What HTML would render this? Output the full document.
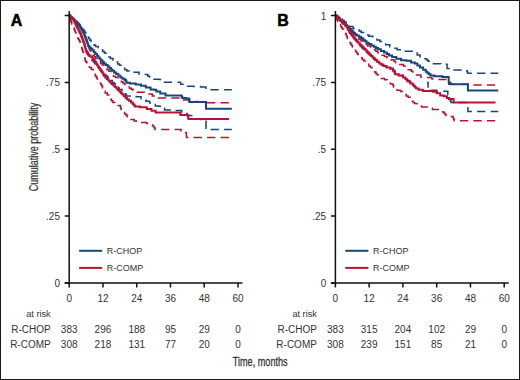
<!DOCTYPE html><html><head><meta charset="utf-8"><style>html,body{margin:0;padding:0;background:#fff;}body{width:520px;height:380px;overflow:hidden;}svg{display:block;font-family:"Liberation Sans",sans-serif;}</style></head><body>
<svg width="520" height="380" viewBox="0 0 520 380">
<rect x="0" y="0" width="520" height="380" fill="#fff"/>
<path d="M69.20,15.50 L70.15,15.50 L70.15,17.00 L72.05,17.00 L72.05,18.50 L73.00,18.50 L73.83,18.50 L73.83,20.00 L75.50,20.00 L75.50,21.50 L77.17,21.50 L77.17,23.00 L78.00,23.00 L78.67,23.00 L78.67,24.50 L80.00,24.50 L80.00,26.00 L81.33,26.00 L81.33,27.50 L82.00,27.50 L82.57,27.50 L82.57,29.20 L83.70,29.20 L83.70,30.90 L84.83,30.90 L84.83,32.60 L85.40,32.60 L85.83,32.60 L85.83,34.07 L86.70,34.07 L86.70,35.53 L87.57,35.53 L87.57,37.00 L88.00,37.00 L88.62,37.00 L88.62,38.57 L89.85,38.57 L89.85,40.13 L91.08,40.13 L91.08,41.70 L91.70,41.70 L92.47,41.70 L92.47,43.33 L94.00,43.33 L94.00,44.97 L95.53,44.97 L95.53,46.60 L96.30,46.60 L98.15,46.60 L98.15,48.30 L100.00,48.30 L100.88,48.30 L100.88,49.87 L102.65,49.87 L102.65,51.43 L104.42,51.43 L104.42,53.00 L105.30,53.00 L106.02,53.00 L106.02,54.35 L107.47,54.35 L107.47,55.70 L108.92,55.70 L108.92,57.05 L110.38,57.05 L110.38,58.40 L111.10,58.40 L113.05,58.40 L113.05,60.30 L115.00,60.30 L115.90,60.30 L115.90,62.10 L117.70,62.10 L117.70,63.90 L118.60,63.90 L119.47,63.90 L119.47,65.35 L121.22,65.35 L121.22,66.80 L122.10,66.80 L123.00,66.80 L123.00,68.30 L124.80,68.30 L124.80,69.80 L125.70,69.80 L126.88,69.80 L126.88,71.00 L129.22,71.00 L129.22,72.20 L130.40,72.20 L136.30,72.20 L139.00,72.20 L139.00,74.00 L141.70,74.00 L144.35,74.00 L144.35,74.50 L147.00,74.50 L147.88,74.50 L147.88,76.30 L149.62,76.30 L149.62,78.10 L150.50,78.10 L153.20,78.10 L153.20,79.30 L155.90,79.30 L159.45,79.30 L159.45,79.60 L163.00,79.60 L163.50,79.60 L163.50,80.90 L164.50,80.90 L164.50,82.20 L165.00,82.20 L180.00,82.20 L180.65,82.20 L180.65,84.20 L181.30,84.20 L186.00,84.20 L186.50,84.20 L186.50,86.20 L187.00,86.20 L193.50,86.20 L193.50,86.50 L200.00,86.50 L200.50,86.50 L200.50,87.00 L201.00,87.00 L206.00,87.00 L206.00,89.70 L231.80,89.70" fill="none" stroke="#15467f" stroke-width="1.5" stroke-dasharray="8.3 5.2" stroke-dashoffset="0.60" stroke-linejoin="miter"/>
<path d="M69.20,15.50 L69.90,15.50 L69.90,17.00 L71.30,17.00 L71.30,18.50 L72.00,18.50 L72.50,18.50 L72.50,19.83 L73.50,19.83 L73.50,21.17 L74.50,21.17 L74.50,22.50 L75.00,22.50 L75.38,22.50 L75.38,24.00 L76.12,24.00 L76.12,25.50 L76.88,25.50 L76.88,27.00 L77.62,27.00 L77.62,28.50 L78.00,28.50 L78.38,28.50 L78.38,30.00 L79.12,30.00 L79.12,31.50 L79.88,31.50 L79.88,33.00 L80.62,33.00 L80.62,34.50 L81.00,34.50 L81.29,34.50 L81.29,36.00 L81.86,36.00 L81.86,37.50 L82.44,37.50 L82.44,39.00 L83.01,39.00 L83.01,40.50 L83.30,40.50 L83.51,40.50 L83.51,41.88 L83.94,41.88 L83.94,43.25 L84.36,43.25 L84.36,44.62 L84.79,44.62 L84.79,46.00 L85.00,46.00 L85.30,46.00 L85.30,47.40 L85.90,47.40 L85.90,48.80 L86.50,48.80 L86.50,50.20 L87.10,50.20 L87.10,51.60 L87.70,51.60 L87.70,53.00 L88.00,53.00 L88.33,53.00 L88.33,54.50 L89.00,54.50 L89.00,56.00 L89.67,56.00 L89.67,57.50 L90.00,57.50 L90.67,57.50 L90.67,59.00 L92.00,59.00 L92.00,60.50 L93.33,60.50 L93.33,62.00 L94.00,62.00 L94.67,62.00 L94.67,63.67 L96.00,63.67 L96.00,65.33 L97.33,65.33 L97.33,67.00 L98.00,67.00 L98.62,67.00 L98.62,68.50 L99.88,68.50 L99.88,70.00 L101.12,70.00 L101.12,71.50 L102.38,71.50 L102.38,73.00 L103.00,73.00 L103.92,73.00 L103.92,74.50 L105.78,74.50 L105.78,76.00 L106.70,76.00 L107.50,76.00 L107.50,77.35 L109.10,77.35 L109.10,78.70 L109.90,78.70 L110.68,78.70 L110.68,80.55 L112.22,80.55 L112.22,82.40 L113.00,82.40 L114.08,82.40 L114.08,83.70 L116.22,83.70 L116.22,85.00 L117.30,85.00 L117.70,85.00 L117.70,86.47 L118.50,86.47 L118.50,87.93 L119.30,87.93 L119.30,89.40 L119.70,89.40 L122.10,89.40 L122.10,91.10 L124.50,91.10 L124.88,91.10 L124.88,92.70 L125.65,92.70 L125.65,94.30 L126.42,94.30 L126.42,95.90 L126.80,95.90 L130.10,95.90 L130.10,96.50 L133.40,96.50 L136.05,96.50 L136.05,96.80 L138.70,96.80 L141.05,96.80 L141.05,98.80 L143.40,98.80 L144.22,98.80 L144.22,100.05 L145.88,100.05 L145.88,101.30 L146.70,101.30 L149.70,101.30 L149.70,103.00 L152.70,103.00 L153.57,103.00 L153.57,104.50 L155.32,104.50 L155.32,106.00 L156.20,106.00 L158.90,106.00 L158.90,106.30 L161.60,106.30 L162.57,106.30 L162.57,108.10 L164.53,108.10 L164.53,109.90 L165.50,109.90 L172.10,109.90 L174.75,109.90 L174.75,110.50 L177.40,110.50 L181.30,110.50 L181.70,110.50 L181.70,111.95 L182.50,111.95 L182.50,113.40 L182.90,113.40 L187.10,113.40 L187.10,115.50 L191.30,115.50 L192.48,115.50 L192.48,117.25 L194.82,117.25 L194.82,119.00 L196.00,119.00 L201.00,119.00 L201.00,119.50 L206.00,119.50 L206.00,129.50 L231.80,129.50" fill="none" stroke="#15467f" stroke-width="1.5" stroke-dasharray="8.3 5.2" stroke-dashoffset="1.10" stroke-linejoin="miter"/>
<path d="M69.20,15.50 L70.60,15.50 L70.60,17.50 L72.00,17.50 L72.62,17.50 L72.62,18.88 L73.88,18.88 L73.88,20.25 L75.12,20.25 L75.12,21.62 L76.38,21.62 L76.38,23.00 L77.00,23.00 L77.50,23.00 L77.50,24.40 L78.50,24.40 L78.50,25.80 L79.50,25.80 L79.50,27.20 L80.50,27.20 L80.50,28.60 L81.50,28.60 L81.50,30.00 L82.00,30.00 L82.38,30.00 L82.38,31.50 L83.12,31.50 L83.12,33.00 L83.88,33.00 L83.88,34.50 L84.62,34.50 L84.62,36.00 L85.00,36.00 L85.25,36.00 L85.25,37.50 L85.75,37.50 L85.75,39.00 L86.25,39.00 L86.25,40.50 L86.75,40.50 L86.75,42.00 L87.25,42.00 L87.25,43.50 L87.75,43.50 L87.75,45.00 L88.00,45.00 L88.30,45.00 L88.30,46.40 L88.90,46.40 L88.90,47.80 L89.50,47.80 L89.50,49.20 L90.10,49.20 L90.10,50.60 L90.70,50.60 L90.70,52.00 L91.00,52.00 L91.67,52.00 L91.67,53.60 L93.03,53.60 L93.03,55.20 L94.38,55.20 L94.38,56.80 L95.73,56.80 L95.73,58.40 L96.40,58.40 L97.25,58.40 L97.25,60.07 L98.95,60.07 L98.95,61.73 L100.65,61.73 L100.65,63.40 L101.50,63.40 L102.28,63.40 L102.28,65.00 L103.82,65.00 L103.82,66.60 L104.60,66.60 L105.40,66.60 L105.40,68.15 L107.00,68.15 L107.00,69.70 L107.80,69.70 L108.85,69.70 L108.85,71.30 L110.95,71.30 L110.95,72.90 L112.00,72.90 L112.53,72.90 L112.53,74.75 L113.57,74.75 L113.57,76.60 L114.10,76.60 L115.70,76.60 L115.70,77.60 L117.30,77.60 L118.10,77.60 L118.10,78.97 L119.70,78.97 L119.70,80.33 L121.30,80.33 L121.30,81.70 L122.10,81.70 L122.88,81.70 L122.88,83.07 L124.45,83.07 L124.45,84.43 L126.02,84.43 L126.02,85.80 L126.80,85.80 L127.70,85.80 L127.70,87.00 L129.50,87.00 L129.50,88.20 L130.40,88.20 L131.30,88.20 L131.30,89.35 L133.10,89.35 L133.10,90.50 L134.00,90.50 L136.35,90.50 L136.35,92.30 L138.70,92.30 L145.80,92.30 L147.60,92.30 L147.60,94.10 L149.40,94.10 L152.35,94.10 L152.35,95.90 L155.30,95.90 L157.35,95.90 L157.35,98.00 L159.40,98.00 L166.80,98.00 L180.00,98.00 L181.30,98.00 L181.30,100.00 L182.60,100.00 L187.90,100.00 L188.95,100.00 L188.95,101.50 L190.00,101.50 L198.00,101.50 L198.00,102.30 L206.00,102.30 L206.80,102.30 L206.80,102.80 L207.60,102.80 L229.00,102.80" fill="none" stroke="#bb1133" stroke-width="1.5" stroke-dasharray="8.3 5.2" stroke-dashoffset="4.30" stroke-linejoin="miter"/>
<path d="M69.20,15.50 L69.43,15.50 L69.43,16.92 L69.90,16.92 L69.90,18.33 L70.37,18.33 L70.37,19.75 L70.83,19.75 L70.83,21.17 L71.30,21.17 L71.30,22.58 L71.77,22.58 L71.77,24.00 L72.00,24.00 L72.32,24.00 L72.32,25.30 L72.95,25.30 L72.95,26.60 L73.58,26.60 L73.58,27.90 L73.90,27.90 L74.23,27.90 L74.23,29.55 L74.88,29.55 L74.88,31.20 L75.20,31.20 L75.45,31.20 L75.45,32.67 L75.95,32.67 L75.95,34.15 L76.45,34.15 L76.45,35.62 L76.95,35.62 L76.95,37.10 L77.20,37.10 L77.70,37.10 L77.70,38.40 L78.70,38.40 L78.70,39.70 L79.20,39.70 L79.45,39.70 L79.45,41.03 L79.95,41.03 L79.95,42.35 L80.45,42.35 L80.45,43.67 L80.95,43.67 L80.95,45.00 L81.20,45.00 L81.36,45.00 L81.36,46.33 L81.69,46.33 L81.69,47.65 L82.01,47.65 L82.01,48.97 L82.34,48.97 L82.34,50.30 L82.50,50.30 L82.82,50.30 L82.82,52.03 L83.45,52.03 L83.45,53.77 L84.08,53.77 L84.08,55.50 L84.40,55.50 L84.53,55.50 L84.53,56.83 L84.78,56.83 L84.78,58.15 L85.03,58.15 L85.03,59.47 L85.28,59.47 L85.28,60.80 L85.40,60.80 L85.90,60.80 L85.90,62.10 L86.90,62.10 L86.90,63.40 L87.90,63.40 L87.90,64.70 L88.40,64.70 L88.73,64.70 L88.73,66.05 L89.38,66.05 L89.38,67.40 L89.70,67.40 L91.35,67.40 L91.35,69.50 L93.00,69.50 L93.18,69.50 L93.18,71.00 L93.55,71.00 L93.55,72.50 L93.92,72.50 L93.92,74.00 L94.10,74.00 L95.15,74.00 L95.15,76.00 L96.20,76.00 L96.46,76.00 L96.46,77.33 L96.99,77.33 L96.99,78.65 L97.51,78.65 L97.51,79.97 L98.04,79.97 L98.04,81.30 L98.30,81.30 L99.10,81.30 L99.10,82.90 L100.70,82.90 L100.70,84.50 L101.50,84.50 L101.85,84.50 L101.85,86.23 L102.55,86.23 L102.55,87.97 L103.25,87.97 L103.25,89.70 L103.60,89.70 L104.12,89.70 L104.12,91.30 L105.17,91.30 L105.17,92.90 L105.70,92.90 L107.25,92.90 L107.25,95.00 L108.80,95.00 L109.17,95.00 L109.17,96.42 L109.92,96.42 L109.92,97.85 L110.67,97.85 L110.67,99.28 L111.42,99.28 L111.42,100.70 L111.80,100.70 L112.83,100.70 L112.83,102.45 L114.88,102.45 L114.88,104.20 L115.90,104.20 L118.00,104.20 L118.00,105.40 L120.10,105.40 L120.31,105.40 L120.31,106.88 L120.74,106.88 L120.74,108.35 L121.16,108.35 L121.16,109.83 L121.59,109.83 L121.59,111.30 L121.80,111.30 L122.70,111.30 L122.70,112.50 L124.50,112.50 L124.50,113.70 L125.40,113.70 L126.00,113.70 L126.00,115.27 L127.20,115.27 L127.20,116.83 L128.40,116.83 L128.40,118.40 L129.00,118.40 L131.05,118.40 L131.05,119.60 L133.10,119.60 L134.15,119.60 L134.15,121.05 L136.25,121.05 L136.25,122.50 L137.30,122.50 L140.35,122.50 L140.35,122.60 L143.40,122.60 L146.70,122.60 L146.70,123.60 L150.00,123.60 L150.85,123.60 L150.85,124.80 L152.55,124.80 L152.55,126.00 L153.40,126.00 L153.93,126.00 L153.93,127.70 L154.97,127.70 L154.97,129.40 L155.50,129.40 L181.00,129.40 L181.05,129.40 L181.05,131.00 L181.15,131.00 L181.15,132.60 L181.20,132.60 L186.20,132.60 L186.27,132.60 L186.27,134.20 L186.40,134.20 L186.40,135.80 L186.53,135.80 L186.53,137.40 L186.60,137.40 L229.00,137.40" fill="none" stroke="#bb1133" stroke-width="1.5" stroke-dasharray="8.3 5.2" stroke-dashoffset="10.20" stroke-linejoin="miter"/>
<path d="M69.20,15.50 L69.90,15.50 L69.90,16.75 L71.30,16.75 L71.30,18.00 L72.00,18.00 L72.75,18.00 L72.75,19.33 L74.25,19.33 L74.25,20.67 L75.75,20.67 L75.75,22.00 L76.50,22.00 L77.25,22.00 L77.25,23.75 L78.75,23.75 L78.75,25.50 L79.50,25.50 L80.12,25.50 L80.12,27.25 L81.38,27.25 L81.38,29.00 L82.00,29.00 L82.30,29.00 L82.30,30.33 L82.90,30.33 L82.90,31.67 L83.50,31.67 L83.50,33.00 L83.80,33.00 L84.07,33.00 L84.07,34.40 L84.61,34.40 L84.61,35.80 L85.15,35.80 L85.15,37.20 L85.69,37.20 L85.69,38.60 L86.23,38.60 L86.23,40.00 L86.50,40.00 L86.76,40.00 L86.76,41.50 L87.29,41.50 L87.29,43.00 L87.81,43.00 L87.81,44.50 L88.34,44.50 L88.34,46.00 L88.60,46.00 L89.33,46.00 L89.33,47.43 L90.80,47.43 L90.80,48.87 L92.27,48.87 L92.27,50.30 L93.00,50.30 L93.80,50.30 L93.80,52.15 L95.40,52.15 L95.40,54.00 L96.20,54.00 L96.90,54.00 L96.90,55.73 L98.30,55.73 L98.30,57.47 L99.70,57.47 L99.70,59.20 L100.40,59.20 L101.10,59.20 L101.10,60.60 L102.50,60.60 L102.50,62.00 L103.90,62.00 L103.90,63.40 L104.60,63.40 L105.65,63.40 L105.65,65.00 L107.75,65.00 L107.75,66.60 L108.80,66.60 L109.50,66.60 L109.50,68.00 L110.90,68.00 L110.90,69.40 L112.30,69.40 L112.30,70.80 L113.00,70.80 L114.08,70.80 L114.08,72.40 L116.22,72.40 L116.22,74.00 L117.30,74.00 L118.35,74.00 L118.35,75.80 L120.45,75.80 L120.45,77.60 L121.50,77.60 L122.55,77.60 L122.55,78.75 L124.65,78.75 L124.65,79.90 L125.70,79.90 L125.97,79.90 L125.97,81.35 L126.53,81.35 L126.53,82.80 L126.80,82.80 L129.80,82.80 L129.80,83.40 L132.80,83.40 L135.75,83.40 L135.75,84.60 L138.70,84.60 L141.05,84.60 L141.05,85.80 L143.40,85.80 L145.80,85.80 L145.80,87.60 L148.20,87.60 L150.55,87.60 L150.55,89.40 L152.90,89.40 L153.95,89.40 L153.95,89.80 L155.00,89.80 L156.30,89.80 L156.30,91.40 L157.60,91.40 L160.25,91.40 L160.25,93.40 L162.90,93.40 L164.20,93.40 L164.20,93.60 L165.50,93.60 L165.50,95.40 L181.30,95.40 L181.62,95.40 L181.62,96.70 L182.28,96.70 L182.28,98.00 L182.60,98.00 L185.90,98.00 L185.90,98.40 L189.20,98.40 L189.30,98.40 L189.30,100.20 L189.50,100.20 L189.50,102.00 L189.60,102.00 L206.00,102.00 L206.00,108.70 L231.80,108.70" fill="none" stroke="#15467f" stroke-width="2.0" stroke-linejoin="miter"/>
<path d="M69.20,15.50 L70.35,15.50 L70.35,17.50 L71.50,17.50 L72.22,17.50 L72.22,19.35 L73.68,19.35 L73.68,21.20 L74.40,21.20 L74.79,21.20 L74.79,22.77 L75.56,22.77 L75.56,24.35 L76.34,24.35 L76.34,25.93 L77.11,25.93 L77.11,27.50 L77.50,27.50 L77.90,27.50 L77.90,29.07 L78.70,29.07 L78.70,30.65 L79.50,30.65 L79.50,32.22 L80.30,32.22 L80.30,33.80 L80.70,33.80 L80.99,33.80 L80.99,35.38 L81.56,35.38 L81.56,36.95 L82.14,36.95 L82.14,38.52 L82.71,38.52 L82.71,40.10 L83.00,40.10 L83.27,40.10 L83.27,41.67 L83.80,41.67 L83.80,43.23 L84.33,43.23 L84.33,44.80 L84.60,44.80 L84.78,44.80 L84.78,46.16 L85.14,46.16 L85.14,47.52 L85.50,47.52 L85.50,48.88 L85.86,48.88 L85.86,50.24 L86.22,50.24 L86.22,51.60 L86.40,51.60 L86.83,51.60 L86.83,52.90 L87.70,52.90 L87.70,54.20 L88.57,54.20 L88.57,55.50 L89.00,55.50 L90.50,55.50 L90.50,56.80 L92.00,56.80 L92.53,56.80 L92.53,58.30 L93.60,58.30 L93.60,59.80 L94.67,59.80 L94.67,61.30 L95.20,61.30 L95.59,61.30 L95.59,62.62 L96.36,62.62 L96.36,63.95 L97.14,63.95 L97.14,65.27 L97.91,65.27 L97.91,66.60 L98.30,66.60 L98.83,66.60 L98.83,68.00 L99.90,68.00 L99.90,69.40 L100.97,69.40 L100.97,70.80 L101.50,70.80 L101.89,70.80 L101.89,72.12 L102.66,72.12 L102.66,73.45 L103.44,73.45 L103.44,74.77 L104.21,74.77 L104.21,76.10 L104.60,76.10 L105.40,76.10 L105.40,77.65 L107.00,77.65 L107.00,79.20 L107.80,79.20 L108.58,79.20 L108.58,80.80 L110.12,80.80 L110.12,82.40 L110.90,82.40 L111.70,82.40 L111.70,83.95 L113.30,83.95 L113.30,85.50 L114.10,85.50 L114.90,85.50 L114.90,87.10 L116.50,87.10 L116.50,88.70 L117.30,88.70 L118.08,88.70 L118.08,90.25 L119.62,90.25 L119.62,91.80 L120.40,91.80 L121.08,91.80 L121.08,93.17 L122.45,93.17 L122.45,94.53 L123.82,94.53 L123.82,95.90 L124.50,95.90 L125.38,95.90 L125.38,97.65 L127.12,97.65 L127.12,99.40 L128.00,99.40 L129.05,99.40 L129.05,100.70 L130.10,100.70 L131.00,100.70 L131.00,102.45 L132.80,102.45 L132.80,104.20 L133.70,104.20 L134.15,104.20 L134.15,105.40 L135.05,105.40 L135.05,106.60 L135.50,106.60 L139.95,106.60 L139.95,107.20 L144.40,107.20 L146.75,107.20 L146.75,109.00 L149.10,109.00 L151.45,109.00 L151.45,110.70 L153.80,110.70 L155.60,110.70 L155.60,112.50 L157.40,112.50 L180.00,112.50 L180.18,112.50 L180.18,113.80 L180.52,113.80 L180.52,115.10 L180.70,115.10 L187.90,115.10 L188.02,115.10 L188.02,116.43 L188.25,116.43 L188.25,117.77 L188.48,117.77 L188.48,119.10 L188.60,119.10 L229.00,119.10" fill="none" stroke="#bb1133" stroke-width="2.0" stroke-linejoin="miter"/>
<path d="M335.40,15.50 L336.52,15.50 L336.52,16.70 L338.77,16.70 L338.77,17.90 L339.90,17.90 L340.78,17.90 L340.78,19.23 L342.55,19.23 L342.55,20.57 L344.32,20.57 L344.32,21.90 L345.20,21.90 L346.05,21.90 L346.05,23.43 L347.75,23.43 L347.75,24.97 L349.45,24.97 L349.45,26.50 L350.30,26.50 L353.00,26.50 L353.00,28.40 L355.70,28.40 L356.80,28.40 L356.80,29.73 L359.00,29.73 L359.00,31.07 L361.20,31.07 L361.20,32.40 L362.30,32.40 L363.62,32.40 L363.62,33.70 L366.25,33.70 L366.25,35.00 L368.88,35.00 L368.88,36.30 L370.20,36.30 L372.80,36.30 L372.80,38.30 L375.40,38.30 L376.88,38.30 L376.88,39.90 L379.82,39.90 L379.82,41.50 L381.30,41.50 L382.75,41.50 L382.75,43.10 L385.65,43.10 L385.65,44.70 L387.10,44.70 L389.75,44.70 L389.75,46.70 L392.40,46.70 L393.97,46.70 L393.97,48.20 L397.12,48.20 L397.12,49.70 L398.70,49.70 L404.25,49.70 L404.25,51.30 L409.80,51.30 L412.90,51.30 L412.90,53.00 L416.00,53.00 L417.20,53.00 L417.20,55.00 L418.40,55.00 L420.00,55.00 L420.00,57.10 L421.60,57.10 L423.70,57.10 L423.70,58.70 L425.80,58.70 L426.57,58.70 L426.57,60.00 L428.12,60.00 L428.12,61.30 L428.90,61.30 L429.20,61.30 L429.20,62.50 L429.50,62.50 L432.00,62.50 L432.00,63.70 L434.50,63.70 L440.80,63.70 L440.80,64.20 L447.10,64.20 L447.10,68.40 L450.25,68.40 L450.25,70.00 L453.40,70.00 L461.30,70.00 L464.10,70.00 L464.10,70.80 L466.90,70.80 L467.15,70.80 L467.15,72.05 L467.65,72.05 L467.65,73.30 L467.90,73.30 L498.30,73.30" fill="none" stroke="#15467f" stroke-width="1.5" stroke-dasharray="8.3 5.2" stroke-dashoffset="3.00" stroke-linejoin="miter"/>
<path d="M335.40,15.50 L336.35,15.50 L336.35,16.80 L337.30,16.80 L337.95,16.80 L337.95,18.27 L339.25,18.27 L339.25,19.75 L340.55,19.75 L340.55,21.23 L341.85,21.23 L341.85,22.70 L342.50,22.70 L343.45,22.70 L343.45,24.20 L345.35,24.20 L345.35,25.70 L346.30,25.70 L346.70,25.70 L346.70,27.16 L347.50,27.16 L347.50,28.62 L348.30,28.62 L348.30,30.08 L349.10,30.08 L349.10,31.54 L349.90,31.54 L349.90,33.00 L350.30,33.00 L350.95,33.00 L350.95,34.62 L352.25,34.62 L352.25,36.25 L353.55,36.25 L353.55,37.88 L354.85,37.88 L354.85,39.50 L355.50,39.50 L356.16,39.50 L356.16,41.12 L357.49,41.12 L357.49,42.75 L358.81,42.75 L358.81,44.38 L360.14,44.38 L360.14,46.00 L360.80,46.00 L361.62,46.00 L361.62,47.65 L363.27,47.65 L363.27,49.30 L364.93,49.30 L364.93,50.95 L366.57,50.95 L366.57,52.60 L367.40,52.60 L368.27,52.60 L368.27,53.93 L370.00,53.93 L370.00,55.27 L371.73,55.27 L371.73,56.60 L372.60,56.60 L373.48,56.60 L373.48,58.33 L375.25,58.33 L375.25,60.07 L377.02,60.07 L377.02,61.80 L377.90,61.80 L379.00,61.80 L379.00,63.13 L381.20,63.13 L381.20,64.47 L383.40,64.47 L383.40,65.80 L384.50,65.80 L385.88,65.80 L385.88,67.05 L388.62,67.05 L388.62,68.30 L390.00,68.30 L391.05,68.30 L391.05,68.40 L392.10,68.40 L393.15,68.40 L393.15,70.30 L394.20,70.30 L394.55,70.30 L394.55,71.70 L395.25,71.70 L395.25,73.10 L395.95,73.10 L395.95,74.50 L396.30,74.50 L398.95,74.50 L398.95,75.50 L401.60,75.50 L403.15,75.50 L403.15,77.60 L404.70,77.60 L405.50,77.60 L405.50,79.20 L407.10,79.20 L407.10,80.80 L407.90,80.80 L409.50,80.80 L409.50,82.40 L411.10,82.40" fill="none" stroke="#15467f" stroke-width="1.5" stroke-dasharray="8.3 5.2" stroke-dashoffset="0.00" stroke-linejoin="miter"/>
<path d="M426.90,82.60 L428.10,82.60 L428.10,90.30 L436.40,90.30 L436.40,91.20 L444.70,91.20 L447.80,91.20 L447.80,98.10 L448.90,98.10 L448.90,99.50 L450.00,99.50 L450.38,99.50 L450.38,101.05 L451.12,101.05 L451.12,102.60 L451.50,102.60 L467.90,102.60 L467.90,111.40 L498.30,111.40" fill="none" stroke="#15467f" stroke-width="1.5" stroke-dasharray="8.3 5.2" stroke-dashoffset="2.00" stroke-linejoin="miter"/>
<path d="M335.40,15.50 L336.70,15.50 L336.70,17.50 L338.00,17.50 L338.75,17.50 L338.75,19.00 L340.25,19.00 L340.25,20.50 L341.75,20.50 L341.75,22.00 L343.25,22.00 L343.25,23.50 L344.00,23.50 L344.80,23.50 L344.80,25.12 L346.40,25.12 L346.40,26.75 L348.00,26.75 L348.00,28.38 L349.60,28.38 L349.60,30.00 L350.40,30.00 L351.10,30.00 L351.10,31.50 L352.50,31.50 L352.50,33.00 L353.90,33.00 L353.90,34.50 L355.30,34.50 L355.30,36.00 L356.00,36.00 L357.00,36.00 L357.00,37.67 L359.00,37.67 L359.00,39.33 L361.00,39.33 L361.00,41.00 L362.00,41.00 L363.12,41.00 L363.12,42.67 L365.35,42.67 L365.35,44.33 L367.58,44.33 L367.58,46.00 L368.70,46.00 L370.65,46.00 L370.65,47.40 L372.60,47.40 L373.27,47.40 L373.27,48.70 L374.60,48.70 L374.60,50.00 L375.93,50.00 L375.93,51.30 L376.60,51.30 L377.70,51.30 L377.70,52.63 L379.90,52.63 L379.90,53.97 L382.10,53.97 L382.10,55.30 L383.20,55.30 L384.50,55.30 L384.50,56.60 L387.10,56.60 L387.10,57.90 L388.40,57.90 L390.80,57.90 L390.80,59.70 L393.20,59.70 L393.98,59.70 L393.98,61.30 L395.52,61.30 L395.52,62.90 L396.30,62.90 L399.45,62.90 L399.45,64.50 L402.60,64.50 L403.40,64.50 L403.40,66.05 L405.00,66.05 L405.00,67.60 L405.80,67.60 L408.15,67.60 L408.15,69.70 L410.50,69.70 L411.30,69.70 L411.30,71.30 L412.90,71.30 L412.90,72.90 L413.70,72.90 L415.80,72.90 L415.80,75.00 L417.90,75.00 L420.80,75.00 L420.80,77.10 L423.70,77.10 L426.20,77.10 L426.20,77.40 L428.70,77.40 L431.85,77.40 L431.85,79.00 L435.00,79.00 L437.90,79.00 L437.90,79.50 L440.80,79.50 L447.10,79.50 L447.90,79.50 L447.90,81.00 L448.70,81.00 L448.70,84.20 L467.90,84.20 L468.20,84.20 L468.20,84.90 L468.50,84.90 L495.50,84.90" fill="none" stroke="#bb1133" stroke-width="1.5" stroke-dasharray="8.3 5.2" stroke-dashoffset="8.60" stroke-linejoin="miter"/>
<path d="M335.40,15.50 L335.72,15.50 L335.72,16.97 L336.35,16.97 L336.35,18.43 L336.98,18.43 L336.98,19.90 L337.30,19.90 L337.79,19.90 L337.79,21.55 L338.76,21.55 L338.76,23.20 L339.74,23.20 L339.74,24.85 L340.71,24.85 L340.71,26.50 L341.20,26.50 L341.70,26.50 L341.70,27.88 L342.70,27.88 L342.70,29.25 L343.70,29.25 L343.70,30.62 L344.70,30.62 L344.70,32.00 L345.20,32.00 L345.52,32.00 L345.52,33.62 L346.18,33.62 L346.18,35.25 L346.82,35.25 L346.82,36.88 L347.48,36.88 L347.48,38.50 L347.80,38.50 L348.23,38.50 L348.23,39.92 L349.07,39.92 L349.07,41.33 L349.93,41.33 L349.93,42.75 L350.77,42.75 L350.77,44.17 L351.62,44.17 L351.62,45.58 L352.47,45.58 L352.47,47.00 L352.90,47.00 L353.43,47.00 L353.43,48.50 L354.49,48.50 L354.49,50.00 L355.55,50.00 L355.55,51.50 L356.61,51.50 L356.61,53.00 L357.67,53.00 L357.67,54.50 L358.20,54.50 L359.01,54.50 L359.01,56.12 L360.64,56.12 L360.64,57.75 L362.26,57.75 L362.26,59.38 L363.89,59.38 L363.89,61.00 L364.70,61.00 L365.52,61.00 L365.52,62.62 L367.18,62.62 L367.18,64.25 L368.82,64.25 L368.82,65.88 L370.48,65.88 L370.48,67.50 L371.30,67.50 L371.96,67.50 L371.96,69.00 L373.29,69.00 L373.29,70.50 L374.61,70.50 L374.61,72.00 L375.94,72.00 L375.94,73.50 L376.60,73.50 L377.12,73.50 L377.12,74.80 L378.15,74.80 L378.15,76.10 L379.18,76.10 L379.18,77.40 L379.70,77.40 L381.30,77.40 L381.30,78.60 L384.50,78.60 L384.50,79.80 L386.10,79.80 L387.15,79.80 L387.15,81.80 L388.20,81.80 L390.40,81.80 L390.40,84.00 L392.60,84.00 L392.95,84.00 L392.95,85.57 L393.65,85.57 L393.65,87.13 L394.35,87.13 L394.35,88.70 L394.70,88.70 L397.10,88.70 L397.10,90.30 L399.50,90.30 L400.55,90.30 L400.55,91.60 L402.65,91.60 L402.65,92.90 L403.70,92.90 L404.55,92.90 L404.55,94.45 L406.25,94.45 L406.25,96.00 L407.10,96.00 L408.10,96.00 L408.10,97.20 L410.10,97.20 L410.10,98.40 L411.10,98.40 L411.48,98.40 L411.48,99.73 L412.25,99.73 L412.25,101.07 L413.02,101.07 L413.02,102.40 L413.40,102.40 L414.60,102.40 L414.60,103.60 L417.00,103.60 L417.00,104.80 L418.20,104.80 L419.38,104.80 L419.38,105.95 L421.72,105.95 L421.72,107.10 L422.90,107.10 L430.00,107.10 L430.80,107.10 L430.80,108.30 L432.40,108.30 L432.40,109.50 L433.20,109.50 L440.30,109.50 L441.10,109.50 L441.10,110.70 L442.70,110.70 L442.70,111.90 L443.50,111.90 L444.02,111.90 L444.02,113.20 L445.05,113.20 L445.05,114.50 L446.08,114.50 L446.08,115.80 L446.60,115.80 L449.75,115.80 L449.75,116.60 L452.90,116.60 L453.17,116.60 L453.17,118.00 L453.70,118.00 L453.70,119.40 L454.23,119.40 L454.23,120.80 L454.50,120.80 L495.50,120.80" fill="none" stroke="#bb1133" stroke-width="1.5" stroke-dasharray="8.3 5.2" stroke-dashoffset="13.20" stroke-linejoin="miter"/>
<path d="M335.40,15.50 L336.35,15.50 L336.35,16.60 L337.30,16.60 L338.17,16.60 L338.17,18.13 L339.90,18.13 L339.90,19.67 L341.63,19.67 L341.63,21.20 L342.50,21.20 L343.16,21.20 L343.16,22.52 L344.49,22.52 L344.49,23.85 L345.81,23.85 L345.81,25.18 L347.14,25.18 L347.14,26.50 L347.80,26.50 L348.43,26.50 L348.43,27.70 L349.68,27.70 L349.68,28.90 L350.30,28.90 L350.95,28.90 L350.95,30.23 L352.25,30.23 L352.25,31.55 L353.55,31.55 L353.55,32.88 L354.85,32.88 L354.85,34.20 L355.50,34.20 L356.60,34.20 L356.60,35.53 L358.80,35.53 L358.80,36.87 L361.00,36.87 L361.00,38.20 L362.10,38.20 L362.98,38.20 L362.98,39.73 L364.75,39.73 L364.75,41.27 L366.52,41.27 L366.52,42.80 L367.40,42.80 L368.70,42.80 L368.70,44.10 L371.30,44.10 L371.30,45.40 L372.60,45.40 L373.70,45.40 L373.70,46.70 L375.90,46.70 L375.90,48.00 L378.10,48.00 L378.10,49.30 L379.20,49.30 L380.85,49.30 L380.85,50.95 L384.15,50.95 L384.15,52.60 L385.80,52.60 L386.85,52.60 L386.85,54.05 L388.95,54.05 L388.95,55.50 L390.00,55.50 L392.10,55.50 L392.10,57.10 L394.20,57.10 L396.30,57.10 L396.30,58.70 L398.40,58.70 L401.05,58.70 L401.05,60.30 L403.70,60.30 L406.30,60.30 L406.30,60.80 L408.90,60.80 L411.05,60.80 L411.05,62.40 L413.20,62.40 L414.75,62.40 L414.75,63.40 L416.30,63.40 L417.35,63.40 L417.35,65.50 L418.40,65.50 L420.00,65.50 L420.00,67.60 L421.60,67.60 L423.15,67.60 L423.15,69.70 L424.70,69.70 L425.75,69.70 L425.75,71.80 L426.80,71.80 L427.50,71.80 L427.50,73.20 L428.20,73.20 L428.98,73.20 L428.98,74.35 L430.52,74.35 L430.52,75.50 L431.30,75.50 L434.45,75.50 L434.45,76.30 L437.60,76.30 L442.35,76.30 L442.35,77.10 L447.10,77.10 L447.90,77.10 L447.90,77.30 L448.70,77.30 L448.70,81.90 L449.30,81.90 L449.30,83.05 L450.50,83.05 L450.50,84.20 L451.10,84.20 L467.90,84.20 L467.90,90.50 L498.30,90.50" fill="none" stroke="#15467f" stroke-width="2.0" stroke-linejoin="miter"/>
<path d="M335.40,15.50 L336.35,15.50 L336.35,16.60 L337.30,16.60 L337.95,16.60 L337.95,18.08 L339.25,18.08 L339.25,19.55 L340.55,19.55 L340.55,21.02 L341.85,21.02 L341.85,22.50 L342.50,22.50 L343.45,22.50 L343.45,24.00 L345.35,24.00 L345.35,25.50 L346.30,25.50 L346.70,25.50 L346.70,26.98 L347.50,26.98 L347.50,28.46 L348.30,28.46 L348.30,29.94 L349.10,29.94 L349.10,31.42 L349.90,31.42 L349.90,32.90 L350.30,32.90 L350.89,32.90 L350.89,34.35 L352.06,34.35 L352.06,35.80 L353.24,35.80 L353.24,37.25 L354.41,37.25 L354.41,38.70 L355.00,38.70 L355.70,38.70 L355.70,40.27 L357.10,40.27 L357.10,41.83 L358.50,41.83 L358.50,43.40 L359.20,43.40 L359.90,43.40 L359.90,44.80 L361.30,44.80 L361.30,46.20 L362.70,46.20 L362.70,47.60 L363.40,47.60 L364.10,47.60 L364.10,49.00 L365.50,49.00 L365.50,50.40 L366.90,50.40 L366.90,51.80 L367.60,51.80 L368.30,51.80 L368.30,53.23 L369.70,53.23 L369.70,54.67 L371.10,54.67 L371.10,56.10 L371.80,56.10 L372.52,56.10 L372.52,57.50 L373.95,57.50 L373.95,58.90 L375.38,58.90 L375.38,60.30 L376.10,60.30 L377.15,60.30 L377.15,61.85 L379.25,61.85 L379.25,63.40 L380.30,63.40 L381.35,63.40 L381.35,64.75 L383.45,64.75 L383.45,66.10 L384.50,66.10 L386.60,66.10 L386.60,67.60 L388.70,67.60 L390.25,67.60 L390.25,68.70 L391.80,68.70 L392.90,68.70 L392.90,70.80 L394.00,70.80 L394.38,70.80 L394.38,72.55 L395.12,72.55 L395.12,74.30 L395.50,74.30 L398.55,74.30 L398.55,75.50 L401.60,75.50 L403.15,75.50 L403.15,77.60 L404.70,77.60 L405.35,77.60 L405.35,79.00 L406.00,79.00 L406.62,79.00 L406.62,80.25 L407.88,80.25 L407.88,81.50 L408.50,81.50 L410.40,81.50 L410.40,83.40 L412.30,83.40 L412.77,83.40 L412.77,84.65 L413.73,84.65 L413.73,85.90 L414.20,85.90 L414.85,85.90 L414.85,87.20 L416.15,87.20 L416.15,88.50 L416.80,88.50 L418.70,88.50 L418.70,89.70 L420.60,89.70 L422.80,89.70 L422.80,90.90 L425.00,90.90 L428.60,90.90 L428.60,91.00 L432.20,91.00 L433.10,91.00 L433.10,91.80 L434.00,91.80 L436.65,91.80 L436.65,93.20 L439.30,93.20 L440.20,93.20 L440.20,95.40 L441.10,95.40 L443.80,95.40 L443.80,96.30 L446.50,96.30 L446.95,96.30 L446.95,98.10 L447.40,98.10 L449.20,98.10 L449.20,99.00 L451.00,99.00 L453.60,99.00 L453.60,102.60 L495.50,102.60" fill="none" stroke="#bb1133" stroke-width="2.0" stroke-linejoin="miter"/>
<path d="M69.2,11 V283.0 M64.7,283.0 H242.5" fill="none" stroke="#111" stroke-width="1.5"/>
<path d="M64.7,283.00 H69.2 M64.7,216.12 H69.2 M64.7,149.25 H69.2 M64.7,82.38 H69.2 M64.7,15.50 H69.2 M69.20,283.0 V287.5 M102.96,283.0 V287.5 M136.72,283.0 V287.5 M170.48,283.0 V287.5 M204.24,283.0 V287.5 M238.00,283.0 V287.5 " fill="none" stroke="#111" stroke-width="1.5"/>
<text x="60.0" y="86.38" font-size="10" text-anchor="end" fill="#333">.75</text>
<text x="60.0" y="153.25" font-size="10" text-anchor="end" fill="#333">.5</text>
<text x="60.0" y="220.12" font-size="10" text-anchor="end" fill="#333">.25</text>
<text x="60.0" y="287.00" font-size="10" text-anchor="end" fill="#333">0</text>
<text x="69.20" y="302.1" font-size="10" text-anchor="middle" fill="#333">0</text>
<text x="102.96" y="302.1" font-size="10" text-anchor="middle" fill="#333">12</text>
<text x="136.72" y="302.1" font-size="10" text-anchor="middle" fill="#333">24</text>
<text x="170.48" y="302.1" font-size="10" text-anchor="middle" fill="#333">36</text>
<text x="204.24" y="302.1" font-size="10" text-anchor="middle" fill="#333">48</text>
<text x="238.00" y="302.1" font-size="10" text-anchor="middle" fill="#333">60</text>
<text x="16.5" y="26" font-size="16" font-weight="bold" text-anchor="middle" fill="#000" stroke="#000" stroke-width="0.5">A</text>
<path d="M79.1,250.8 H102.2" stroke="#15467f" stroke-width="2"/>
<path d="M79.1,267.9 H102.2" stroke="#bb1133" stroke-width="2"/>
<text x="106.7" y="254.3" font-size="9" fill="#333">R-CHOP</text>
<text x="106.7" y="271.4" font-size="9" fill="#333">R-COMP</text>
<text x="50.7" y="316.6" font-size="9.2" text-anchor="end" fill="#333">at risk</text>
<text x="50.7" y="332.5" font-size="10" text-anchor="end" fill="#333">R-CHOP</text>
<text x="50.7" y="348.4" font-size="10" text-anchor="end" fill="#333">R-COMP</text>
<path d="M335.4,11 V283.0 M330.9,283.0 H508.7" fill="none" stroke="#111" stroke-width="1.5"/>
<path d="M330.9,283.00 H335.4 M330.9,216.12 H335.4 M330.9,149.25 H335.4 M330.9,82.38 H335.4 M330.9,15.50 H335.4 M335.40,283.0 V287.5 M369.16,283.0 V287.5 M402.92,283.0 V287.5 M436.68,283.0 V287.5 M470.44,283.0 V287.5 M504.20,283.0 V287.5 " fill="none" stroke="#111" stroke-width="1.5"/>
<text x="326.2" y="19.50" font-size="10" text-anchor="end" fill="#333">1</text>
<text x="326.2" y="86.38" font-size="10" text-anchor="end" fill="#333">.75</text>
<text x="326.2" y="153.25" font-size="10" text-anchor="end" fill="#333">.5</text>
<text x="326.2" y="220.12" font-size="10" text-anchor="end" fill="#333">.25</text>
<text x="326.2" y="287.00" font-size="10" text-anchor="end" fill="#333">0</text>
<text x="335.40" y="302.1" font-size="10" text-anchor="middle" fill="#333">0</text>
<text x="369.16" y="302.1" font-size="10" text-anchor="middle" fill="#333">12</text>
<text x="402.92" y="302.1" font-size="10" text-anchor="middle" fill="#333">24</text>
<text x="436.68" y="302.1" font-size="10" text-anchor="middle" fill="#333">36</text>
<text x="470.44" y="302.1" font-size="10" text-anchor="middle" fill="#333">48</text>
<text x="504.20" y="302.1" font-size="10" text-anchor="middle" fill="#333">60</text>
<text x="283.0" y="26" font-size="16" font-weight="bold" text-anchor="middle" fill="#000" stroke="#000" stroke-width="0.5">B</text>
<path d="M345.3,250.8 H368.4" stroke="#15467f" stroke-width="2"/>
<path d="M345.3,267.9 H368.4" stroke="#bb1133" stroke-width="2"/>
<text x="372.9" y="254.3" font-size="9" fill="#333">R-CHOP</text>
<text x="372.9" y="271.4" font-size="9" fill="#333">R-COMP</text>
<text x="316.9" y="316.6" font-size="9.2" text-anchor="end" fill="#333">at risk</text>
<text x="316.9" y="332.5" font-size="10" text-anchor="end" fill="#333">R-CHOP</text>
<text x="316.9" y="348.4" font-size="10" text-anchor="end" fill="#333">R-COMP</text>
<text x="69.20" y="332.5" font-size="10" text-anchor="middle" fill="#333">383</text>
<text x="69.20" y="348.4" font-size="10" text-anchor="middle" fill="#333">308</text>
<text x="102.96" y="332.5" font-size="10" text-anchor="middle" fill="#333">296</text>
<text x="102.96" y="348.4" font-size="10" text-anchor="middle" fill="#333">218</text>
<text x="136.72" y="332.5" font-size="10" text-anchor="middle" fill="#333">188</text>
<text x="136.72" y="348.4" font-size="10" text-anchor="middle" fill="#333">131</text>
<text x="170.48" y="332.5" font-size="10" text-anchor="middle" fill="#333">95</text>
<text x="170.48" y="348.4" font-size="10" text-anchor="middle" fill="#333">77</text>
<text x="204.24" y="332.5" font-size="10" text-anchor="middle" fill="#333">29</text>
<text x="204.24" y="348.4" font-size="10" text-anchor="middle" fill="#333">20</text>
<text x="238.00" y="332.5" font-size="10" text-anchor="middle" fill="#333">0</text>
<text x="238.00" y="348.4" font-size="10" text-anchor="middle" fill="#333">0</text>
<text x="335.40" y="332.5" font-size="10" text-anchor="middle" fill="#333">383</text>
<text x="335.40" y="348.4" font-size="10" text-anchor="middle" fill="#333">308</text>
<text x="369.16" y="332.5" font-size="10" text-anchor="middle" fill="#333">315</text>
<text x="369.16" y="348.4" font-size="10" text-anchor="middle" fill="#333">239</text>
<text x="402.92" y="332.5" font-size="10" text-anchor="middle" fill="#333">204</text>
<text x="402.92" y="348.4" font-size="10" text-anchor="middle" fill="#333">151</text>
<text x="436.68" y="332.5" font-size="10" text-anchor="middle" fill="#333">102</text>
<text x="436.68" y="348.4" font-size="10" text-anchor="middle" fill="#333">85</text>
<text x="470.44" y="332.5" font-size="10" text-anchor="middle" fill="#333">29</text>
<text x="470.44" y="348.4" font-size="10" text-anchor="middle" fill="#333">21</text>
<text x="504.20" y="332.5" font-size="10" text-anchor="middle" fill="#333">0</text>
<text x="504.20" y="348.4" font-size="10" text-anchor="middle" fill="#333">0</text>
<text transform="translate(38.1,147) rotate(-90) scale(0.75,1)" font-size="12" text-anchor="middle" fill="#333" stroke="#333" stroke-width="0.2">Cumulative probability</text>
<text transform="translate(260.2,365.8) scale(0.76,1)" font-size="12" text-anchor="middle" fill="#333" stroke="#333" stroke-width="0.25">Time, months</text>
<rect x="0.5" y="0.5" width="519" height="379" fill="none" stroke="#1a1a1a" stroke-width="1"/>
</svg></body></html>
